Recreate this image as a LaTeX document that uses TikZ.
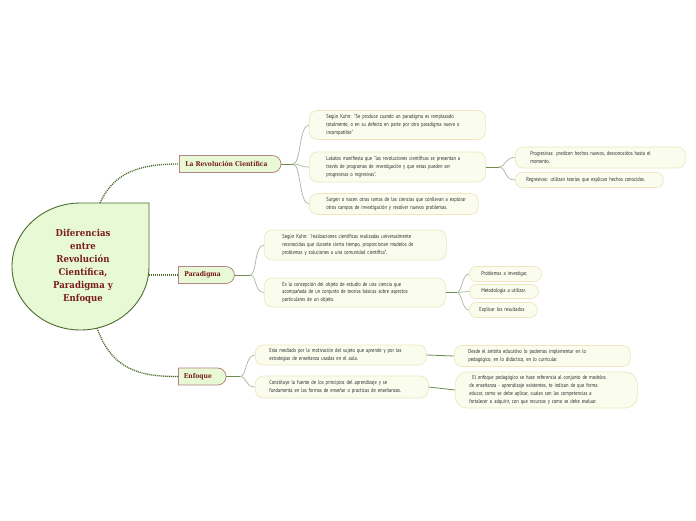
\documentclass[tikz,border=0pt]{standalone}
\usepackage{fontspec}
\setmainfont{PT Sans}
\newfontfamily\leaf[FakeStretch=0.78]{PT Sans}
\newfontfamily\heavy[FakeStretch=0.9]{DejaVu Serif}
\usetikzlibrary{shapes.misc}
\definecolor{mainfill}{HTML}{E7FAD5}
\definecolor{mainline}{HTML}{4E6B2E}
\definecolor{titlered}{HTML}{7B1C1C}
\definecolor{branchline}{HTML}{B58585}
\definecolor{leaffill}{HTML}{FAFDEE}
\definecolor{leafline}{HTML}{EFE6C0}
\definecolor{leaftext}{HTML}{2A2A2A}
\definecolor{twigdark}{HTML}{6E8B4E}
\definecolor{twiglight}{HTML}{A9B89A}
\tikzset{
  leafbox/.style={draw=leafline, fill=leaffill, rounded corners=8pt, line width=0.7pt,
    font=\leaf\fontsize{5.8}{7.7}\selectfont, text=leaftext, align=left, anchor=west,
    inner ysep=0pt, inner xsep=16pt},
  branchbox/.style={rounded rectangle, rounded rectangle left arc=none, draw=branchline,
    fill=mainfill, line width=0.8pt, font=\heavy\bfseries\fontsize{6.7}{8}\selectfont,
    text=titlered, minimum height=17pt, inner xsep=5pt, anchor=west},
  dotline/.style={draw=mainline, line width=1.3pt, dash pattern=on 1.1pt off 0.9pt},
  twig/.style={draw=twiglight, line width=0.7pt},
  stem/.style={draw=twigdark, line width=0.8pt}
}
\begin{document}
\begin{tikzpicture}[x=1pt,y=-1pt]
\fill[white] (0,0) rectangle (696,520);
\useasboundingbox (0,0) rectangle (696,520);
% central teardrop
\draw[fill=mainfill, draw=mainline, line width=0.9pt]
  (80.5,203) -- (149,203) -- (149,266.5)
  arc[start angle=0, end angle=270, x radius=68.5, y radius=63.5] -- cycle;
\node[font=\heavy\bfseries\fontsize{9.5}{13}\selectfont, text=titlered, align=center]
  (c) at (83,266.5) {Diferencias\\entre\\Revolución\\Científica,\\Paradigma y\\Enfoque};
\coordinate (ctop) at (100,203);
\coordinate (cright) at (148.6,275);
\coordinate (cbot) at (97,328);
% branches
\node[branchbox, inner xsep=6pt] (rev) at (179,164) {La Revolución Científica\hspace*{7pt}};
\node[branchbox, inner xsep=6pt] (para) at (178,275) {Paradigma\hspace*{7pt}};
\node[branchbox, inner xsep=5.5pt] (enf) at (178,376.5) {Enfoque\hspace*{8pt}};
\draw[dotline] (ctop) .. controls (114,172) and (140,164) .. (rev.west);
\draw[dotline] (cright) -- (para.west);
\draw[dotline] (cbot) .. controls (112,370) and (140,376.5) .. (enf.west);
% Revolucion children
\node[leafbox, minimum height=29pt, text width=142pt, inner xsep=17pt] (r1) at (309,125)
 {Según Kuhn: "Se produce cuando un paradigma es remplazado\\ totalmente, o en su defecto en parte por otro paradigma nuevo o\\ incompatible"};
\node[leafbox, minimum height=30pt, text width=142pt, inner xsep=17pt] (r2) at (309,167)
 {Lakatos manifiesta que "las revoluciones científicas se presentan a\\ través de programas de investigación y que estas pueden ser\\ progresivas o regresivas".};
\node[leafbox, minimum height=21pt, text width=135pt, inner xsep=17pt] (r3) at (309,204)
 {\mbox{Surgen o nacen otras ramas de las ciencias que conllevan a explorar}\\ otros campos de investigación y resolver nuevos problemas.};
\coordinate (rf) at (293,164);
\draw[stem] (rev.east) -- (rf);
\draw[twig] (rf) .. controls (301,164) and (299,125) .. (r1.west);
\draw[twig] (rf) .. controls (301,164) and (300,167) .. (r2.west);
\draw[twig] (rf) .. controls (301,164) and (299,204) .. (r3.west);
% progresivas / regresivas
\node[leafbox, minimum height=21pt, text width=140pt, inner xsep=15pt] (p1) at (515,157.5)
 {Progresivas: predicen hechos nuevos, desconocidos hasta el\\ momento.};
\node[leafbox, minimum height=15pt, text width=126pt, inner xsep=11pt, rounded corners=7pt] (p2) at (515,180)
 {Regresivas: utilizan teorías que explican hechos conocidos.};
\coordinate (pf) at (499,167);
\draw[stem] (r2.east) -- (pf);
\draw[twig] (pf) .. controls (506,167) and (504,157.5) .. (p1.west);
\draw[twig] (pf) .. controls (506,167) and (504,180) .. (p2.west);
% Paradigma children
\node[leafbox, minimum height=30pt, text width=146pt, inner xsep=18pt] (a1) at (264,245)
 {Según Kuhn: "realizaciones científicas realizadas universalmente\\ reconocidas que durante cierto tiempo, proporcionan modelos de\\ problemas y soluciones a una comunidad científica".};
\node[leafbox, minimum height=29pt, text width=145pt, inner xsep=18pt] (a2) at (264,292.5)
 {Es la concepción del objeto de estudio de una ciencia que\\ acompañada de un conjunto de teorías básicas sobre aspectos\\ particulares de un objeto.};
\coordinate (af) at (250,275);
\draw[stem] (para.east) -- (af);
\draw[twig] (af) .. controls (257,275) and (254,245) .. (a1.west);
\draw[twig] (af) .. controls (257,275) and (254,292.5) .. (a2.west);
% Paradigma grandchildren
\node[leafbox, minimum height=15pt, text width=48pt, inner xsep=12pt, rounded corners=7pt] (q1) at (469,274)
 {Problemas a investigar.};
\node[leafbox, minimum height=14pt, text width=45pt, inner xsep=12pt, rounded corners=7pt] (q2) at (469,291.5)
 {Metodología a utilizar.};
\node[leafbox, minimum height=15pt, text width=48pt, inner xsep=10pt, rounded corners=7pt] (q3) at (469,310)
 {Explicar los resultados};
\coordinate (qf) at (457,292.5);
\draw[stem] (a2.east) -- (qf);
\draw[twig] (qf) .. controls (462,292.5) and (462,274) .. (q1.west);
\draw[twig] (qf) -- (q2.west);
\draw[twig] (qf) .. controls (462,292.5) and (462,310) .. (q3.west);
% Enfoque children
\node[leafbox, minimum height=20pt, text width=143pt, inner xsep=14pt] (e1) at (255,355)
 {Esta mediado por la motivación del sujeto que aprende y por las\\ estrategias de enseñanza usadas en el aula.};
\node[leafbox, minimum height=22pt, text width=145pt, inner xsep=14pt] (e2) at (255,387)
 {Constituye la fuente de los principios del aprendizaje y se\\ fundamenta en las formas de enseñar o practicas de enseñanzas.};
\coordinate (ef) at (240,376.5);
\draw[stem] (enf.east) -- (ef);
\draw[twig] (ef) .. controls (247,376.5) and (245,355) .. (e1.west);
\draw[twig] (ef) .. controls (247,376.5) and (245,387) .. (e2.west);
\node[leafbox, minimum height=21pt, text width=148pt, inner xsep=14pt] (e3) at (454,356)
 {Desde el ámbito educativo lo podemos implementar en lo\\ pedagógico, en lo didáctico, en lo curricular.};
\node[leafbox, minimum height=36pt, text width=154pt, inner xsep=14pt, rounded corners=12pt] (e4) at (455,390)
 {\hspace*{3pt}El enfoque pedagógico se hace referencia al conjunto de modelos\\ de enseñanza - aprendizaje existentes, te indican de que forma\\ educar, como se debe aplicar, cuales son las competencias a\\ fortalecer o adquirir, con que recursos y como se debe evaluar.};
\draw[stem] (e1.east) -- (e3.west);
\draw[stem] (e2.east) -- (e4.west);
\end{tikzpicture}
\end{document}
